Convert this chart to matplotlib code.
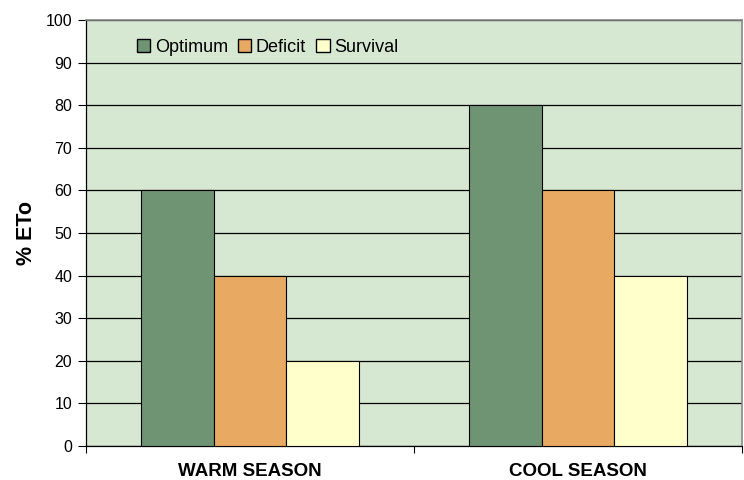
import matplotlib
matplotlib.use("Agg")
import matplotlib.pyplot as plt
import numpy as np

plt.rcParams['font.family'] = ['Liberation Sans', 'DejaVu Sans']

categories = ["WARM SEASON", "COOL SEASON"]
series = ["Optimum", "Deficit", "Survival"]
optimum = [60, 80]
deficit = [40, 60]
survival = [20, 40]
colors = ["#6E9473", "#E8AA62", "#FFFFCC"]

fig = plt.figure(figsize=(7.44, 4.8), dpi=100)
ax = fig.add_axes([86/744, 34/480, 656/744, 426/480])
ax.set_facecolor("#D6E8D2")

x = np.arange(len(categories))
w = 1/4.5
for i, (vals, c, lab) in enumerate(zip([optimum, deficit, survival], colors, series)):
    ax.bar(x + (i-1)*w, vals, w, color=c, edgecolor="black", linewidth=0.8, label=lab, zorder=3)

ax.set_xlim(-0.5, 1.5)
ax.set_ylim(0, 100)
ax.set_yticks(range(0, 101, 10))
ax.yaxis.grid(True, color="black", linewidth=0.9, zorder=1)
ax.set_axisbelow(True)
ax.tick_params(axis='y', direction='out', length=6, width=0.8, labelsize=11.5, pad=4)

ax.set_xticks([-0.5, 0.5, 1.5])
ax.set_xticklabels([])
ax.tick_params(axis='x', direction='out', length=5, width=0.8)
for xi, cat in zip(x, categories):
    ax.text(xi, -3.9, cat, ha='center', va='top', fontsize=13.5, fontweight='bold',
            transform=ax.transData)

for s in ['top', 'right']:
    ax.spines[s].set_color('#888888')
    ax.spines[s].set_linewidth(1.2)
for s in ['left', 'bottom']:
    ax.spines[s].set_color('black')
    ax.spines[s].set_linewidth(0.9)

ax.set_ylabel("% ETo", fontsize=15.5, fontweight='bold', labelpad=6)

leg = ax.legend(loc='upper left', bbox_to_anchor=(0.058, 0.985), ncol=3, frameon=False,
                fontsize=13, handlelength=0.75, handleheight=0.75, handletextpad=0.25,
                columnspacing=0.55, borderaxespad=0.3)
for h in leg.legend_handles:
    h.set_edgecolor("black")
    h.set_linewidth(1.0)

fig.savefig("out.png", dpi=100)
